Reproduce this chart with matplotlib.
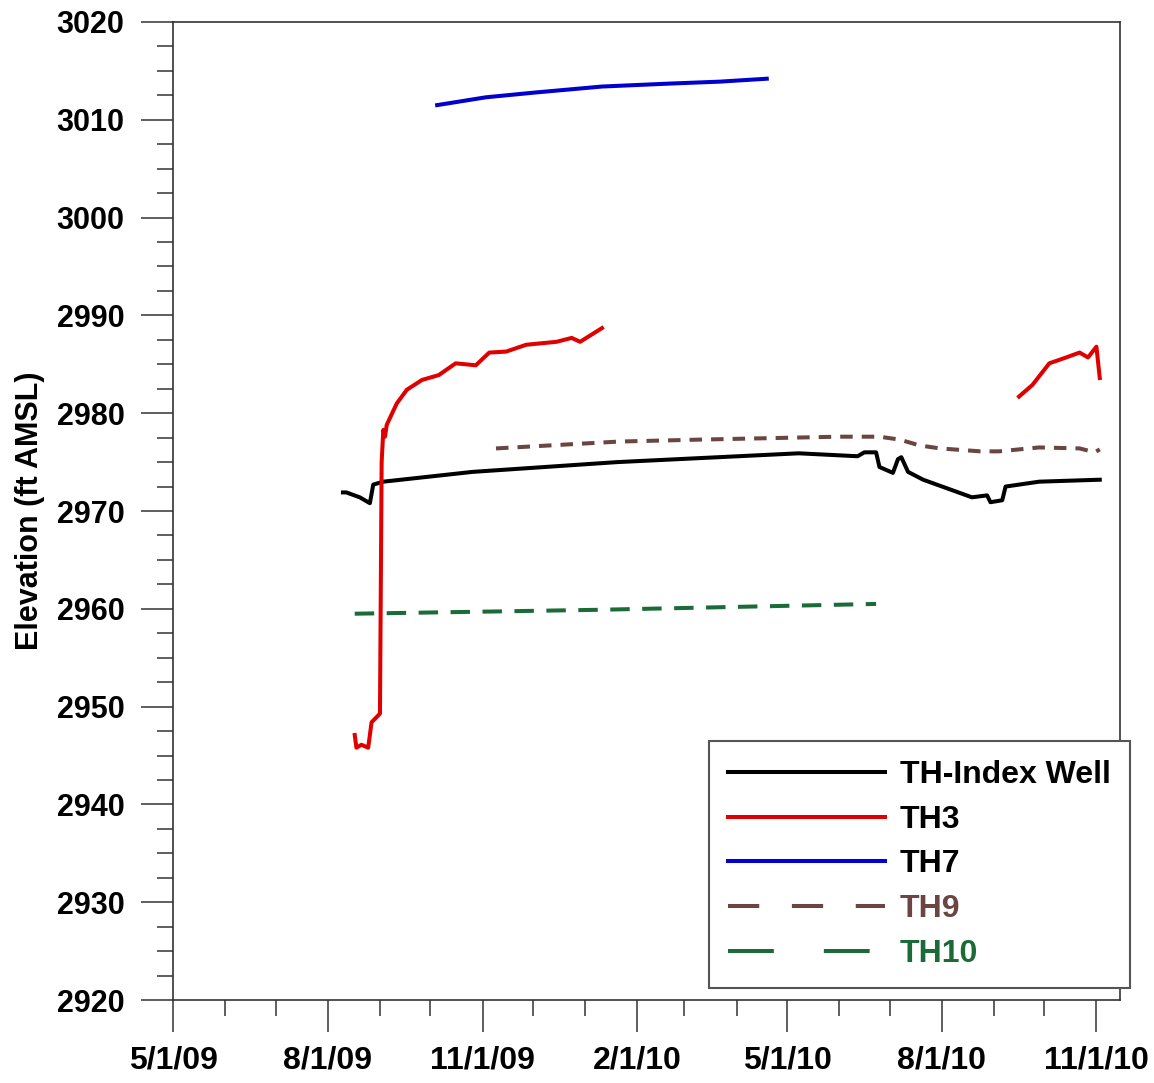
import matplotlib
matplotlib.use("Agg")
import matplotlib.pyplot as plt
import matplotlib.dates as mdates
from matplotlib.lines import Line2D
from matplotlib.ticker import MultipleLocator, FuncFormatter
from matplotlib import font_manager
import pandas as pd

# Data
index_dates = ["2009-08-10", "2009-08-12", "2009-08-20", "2009-08-26", "2009-08-28",
               "2009-09-03", "2009-10-26", "2010-01-20", "2010-05-08", "2010-06-12",
               "2010-06-16", "2010-06-23", "2010-06-25", "2010-07-03", "2010-07-06",
               "2010-07-08", "2010-07-12", "2010-07-21", "2010-08-19", "2010-08-28",
               "2010-08-30", "2010-09-06", "2010-09-08", "2010-09-28", "2010-11-03"]
index_vals = [2971.9, 2971.9, 2971.4, 2970.8, 2972.7,
              2973.0, 2974.0, 2975.0, 2975.9, 2975.6,
              2976.0, 2976.0, 2974.5, 2973.9, 2975.3,
              2975.5, 2974.0, 2973.2, 2971.4, 2971.6,
              2970.9, 2971.1, 2972.5, 2973.0, 2973.2]

th3_dates_a = ["2009-08-17", "2009-08-18", "2009-08-21", "2009-08-25", "2009-08-27",
               "2009-08-31", "2009-09-01", "2009-09-02", "2009-09-03", "2009-09-04",
               "2009-09-05", "2009-09-11", "2009-09-17", "2009-09-26", "2009-10-06",
               "2009-10-16", "2009-10-28", "2009-11-05", "2009-11-15", "2009-11-27",
               "2009-12-15", "2009-12-24", "2009-12-29", "2010-01-11"]
th3_vals_a = [2947.1, 2945.8, 2946.1, 2945.8, 2948.4,
              2949.1, 2949.3, 2975.0, 2978.3, 2977.6,
              2978.8, 2981.0, 2982.4, 2983.4, 2983.9,
              2985.1, 2984.9, 2986.2, 2986.3, 2987.0,
              2987.3, 2987.7, 2987.3, 2988.7]
th3_dates_b = ["2010-09-16", "2010-09-24", "2010-10-04", "2010-10-14", "2010-10-22",
               "2010-10-27", "2010-11-01", "2010-11-03"]
th3_vals_b = [2981.7, 2982.9, 2985.1, 2985.7, 2986.2, 2985.7, 2986.8, 2983.6]

th7_dates = ["2009-10-05", "2009-11-03", "2009-12-03", "2010-01-11", "2010-02-20",
             "2010-03-22", "2010-04-19"]
th7_vals = [3011.5, 3012.3, 3012.8, 3013.4, 3013.7, 3013.9, 3014.2]

th9_dates = ["2009-11-09", "2010-01-21", "2010-03-10", "2010-06-01", "2010-06-25",
             "2010-07-07", "2010-07-19", "2010-07-31", "2010-08-24", "2010-09-04",
             "2010-09-28", "2010-10-22", "2010-10-31", "2010-11-03"]
th9_vals = [2976.4, 2977.1, 2977.3, 2977.6, 2977.6,
            2977.3, 2976.7, 2976.4, 2976.1, 2976.1,
            2976.5, 2976.4, 2976.0, 2976.3]

th10_dates = ["2009-08-17", "2010-01-09", "2010-06-23"]
th10_vals = [2959.5, 2959.9, 2960.5]

labels = ["TH-Index Well", "TH3", "TH7", "TH9", "TH10"]
colors = ["black", "#e00000", "#0000d0", "#6a4541", "#1b6b38"]

names = {f.name for f in font_manager.fontManager.ttflist}
narrow = "Liberation Sans Narrow" if "Liberation Sans Narrow" in names else "Liberation Sans"

plt.rcParams["font.family"] = ["Liberation Sans", "DejaVu Sans"]
plt.rcParams["font.weight"] = "bold"
plt.rcParams["lines.scale_dashes"] = False

fig = plt.figure(figsize=(11.54, 10.83), dpi=100)
ax = fig.add_axes([0.15, 0.0766, 0.8205, 0.9031])

lw = 2.9
ax.plot(pd.to_datetime(index_dates), index_vals, color=colors[0], lw=lw)
ax.plot(pd.to_datetime(th3_dates_a), th3_vals_a, color=colors[1], lw=lw)
ax.plot(pd.to_datetime(th3_dates_b), th3_vals_b, color=colors[1], lw=lw)
ax.plot(pd.to_datetime(th7_dates), th7_vals, color=colors[2], lw=lw)
ax.plot(pd.to_datetime(th9_dates), th9_vals, color=colors[3], lw=lw,
        linestyle=(0, (9, 6.5)))
ax.plot(pd.to_datetime(th10_dates), th10_vals, color=colors[4], lw=lw,
        linestyle=(0, (14, 9)))

ax.set_xlim(pd.Timestamp("2009-05-01"), pd.Timestamp("2010-11-15"))
ax.set_ylim(2920, 3020)

ax.yaxis.set_major_locator(MultipleLocator(10))
ax.yaxis.set_minor_locator(MultipleLocator(2.5))
ax.xaxis.set_major_locator(mdates.MonthLocator(bymonth=[2, 5, 8, 11]))
ax.xaxis.set_minor_locator(mdates.MonthLocator())
ax.xaxis.set_major_formatter(
    FuncFormatter(lambda v, p: (lambda d: f"{d.month}/{d.day}/{d.year % 100:02d}")(mdates.num2date(v))))

ax.tick_params(which="major", direction="out", length=23, width=1.1, color="#333333")
ax.tick_params(which="minor", direction="out", length=11.5, width=1.1, color="#333333")
ax.tick_params(axis="y", labelsize=22, pad=12)
ax.tick_params(axis="x", labelsize=23, pad=10)
for t in ax.get_xticklabels():
    t.set_family(narrow)
    t.set_fontweight("bold")
for t in ax.get_yticklabels():
    t.set_fontweight("bold")

for s in ax.spines.values():
    s.set_color("#333333")
    s.set_linewidth(1.2)

ax.set_ylabel("Elevation (ft AMSL)", fontsize=22, fontweight="bold", labelpad=8)

handles = [
    Line2D([], [], color=colors[0], lw=lw),
    Line2D([], [], color=colors[1], lw=lw),
    Line2D([], [], color=colors[2], lw=lw),
    Line2D([], [], color=colors[3], lw=lw, linestyle=(0, (22.5, 23.5))),
    Line2D([], [], color=colors[4], lw=lw, linestyle=(0, (33, 36))),
]
leg = ax.legend(handles, labels, loc="lower right", bbox_to_anchor=(0.979, 0.0877),
                bbox_transform=fig.transFigure, borderaxespad=0, fancybox=False,
                framealpha=1, edgecolor="#555555", handlelength=4.9,
                handletextpad=0.47, labelspacing=0.46, borderpad=0.6,
                prop={"weight": "bold", "size": 23})
leg.get_frame().set_linewidth(1.5)
for txt, c in zip(leg.get_texts(), ["black", "black", "black", colors[3], colors[4]]):
    txt.set_color(c)

fig.savefig("out.png", dpi=100)
